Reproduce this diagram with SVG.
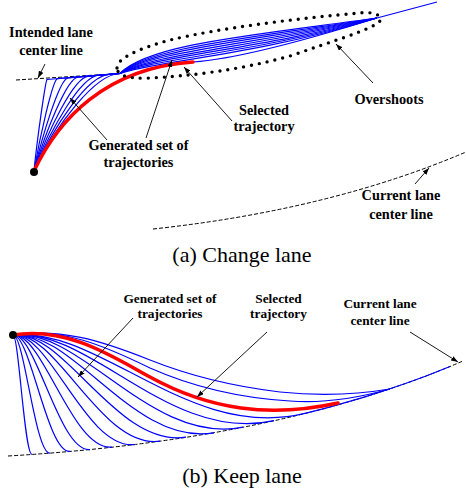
<svg xmlns="http://www.w3.org/2000/svg" width="466" height="495" viewBox="0 0 466 495">
<defs>
<marker id="ah" viewBox="0 0 7 5" refX="7" refY="2.5" markerWidth="7" markerHeight="5" markerUnits="userSpaceOnUse" orient="auto"><path d="M0,0 L7,2.5 L0,5 z" fill="#000"/></marker>
</defs>
<style>
.traj{fill:none;stroke:#0000ff;stroke-width:1.2;stroke-linejoin:round}
.sel{fill:none;stroke:#ff0000;stroke-width:3.5;stroke-linecap:round}
.lane{fill:none;stroke:#000;stroke-width:1;stroke-dasharray:4 2}
.oval{fill:none;stroke:#000;stroke-width:3.4;stroke-dasharray:0 8;stroke-linecap:round}
.arr{fill:none;stroke:#000;stroke-width:0.9;marker-end:url(#ah)}
.lbl{font-family:"Liberation Serif","Times New Roman",serif;font-weight:bold;text-anchor:middle;fill:#000}
.la{font-size:14.3px}
.lb{font-size:13.3px}
.cap{font-family:"Liberation Serif","Times New Roman",serif;font-size:22px;text-anchor:middle;fill:#000}
</style>
<rect width="466" height="495" fill="#fff"/>

<!-- Panel (a) Change lane -->
<g id="panel-a">
  <g id="intended-lane-line"><path class="lane" d="M16,80 L120,73.5"/></g>
  <g id="current-lane-line-a"><path class="lane" d="M153,229 Q330,210 466,152"/></g>
  <g id="trajectories-a">
    <path class="traj" d="M34,171 C37,140 45.5,81 47,79.5 L120,73.5 C148,44 255,35 377,18"/>
    <path class="traj" d="M34,171 C39.7,137.9 52.6,80 57.4,78.6 L120,73.5 C148,46.6 255,38 377,18"/>
    <path class="traj" d="M34,171 C42.4,135.7 59.6,79 67.9,77.8 L120,73.5 C148,49.1 255,41 377,18"/>
    <path class="traj" d="M34,171 C45.1,133.6 66.7,78 78.3,76.9 L120,73.5 C148,51.7 255,44 377,18"/>
    <path class="traj" d="M34,171 C47.8,131.4 73.8,77 88.7,76.1 L120,73.5 C148,54.3 255,47 377,18"/>
    <path class="traj" d="M34,171 C50.6,129.3 80.9,76 99.1,75.2 L120,73.5 C148,56.9 255,50 377,18"/>
    <path class="traj" d="M34,171 C53.3,127.1 87.9,75 109.6,74.4 L120,73.5 C148,59.4 255,53 377,18"/>
    <path class="traj" d="M34,171 C56,125 95,74 120,73.5 C148,62 255,56 377,18"/>
    <path class="traj" d="M193,62 C230,59.5 300,42 377,18 L437,2"/>
  </g>
  <g id="selected-trajectory-a"><path class="sel" d="M34,171 C58,120 105,68 193,62"/></g>
  <g id="overshoots-ellipse"><path class="oval" d="M117,68 C117,58 140,48 170,40 C220,28 300,18 360,13 C378,11 384,18 379,22 C370,30 330,42 290,56 C240,70 190,76 150,78 C130,79 117,76 117,68 Z"/></g>
  <g id="start-a"><circle cx="34" cy="172" r="4" fill="#000"/></g>
  <g id="label-intended"><text class="lbl la" x="51" y="36.5">Intended lane</text><text class="lbl la" x="51" y="55">center line</text></g>
  <g id="label-generated-a"><text class="lbl la" x="138.5" y="149.5">Generated set of</text><text class="lbl la" x="138.5" y="167">trajectories</text></g>
  <g id="label-selected-a"><text class="lbl la" x="264" y="114.5">Selected</text><text class="lbl la" x="264" y="131">trajectory</text></g>
  <g id="label-overshoots"><text class="lbl la" x="389" y="104">Overshoots</text></g>
  <g id="label-current-a"><text class="lbl la" x="401" y="200">Current lane</text><text class="lbl la" x="401" y="219">center line</text></g>
  <g id="caption-a"><text class="cap" x="242" y="261.5">(a) Change lane</text></g>
</g>

<!-- Panel (b) Keep lane -->
<g id="panel-b">
  <g id="current-lane-line-b"><path class="lane" d="M8,456 Q280,440 463,361"/></g>
  <g id="trajectories-b">
    <path class="traj" d="M13,335 C18.7,334.4 24.4,455 32,454.4"/>
    <path class="traj" d="M13,335 C24.1,333.9 35.2,454.4 50,453.2"/>
    <path class="traj" d="M13,335 C30.1,333.3 47.2,453.4 70,451.4"/>
    <path class="traj" d="M13,335 C36.1,332.7 59.2,452.6 90,449.6"/>
    <path class="traj" d="M13,335 C42.7,332 72.4,451.5 112,447.1"/>
    <path class="traj" d="M13,335 C49.6,331.3 86.2,450.6 135,444.5"/>
    <path class="traj" d="M13,335 C57.1,330.6 101.2,449.3 160,441.1"/>
    <path class="traj" d="M13,335 C64.9,329.8 116.8,448.1 186,437.2"/>
    <path class="traj" d="M13,335 C73.3,329 133.6,446.9 214,432.8"/>
    <path class="traj" d="M13,335 C82,328.1 151,445.3 243,427.2"/>
    <path class="traj" d="M13,335 C91.3,327.2 169.6,443.9 274,420.7"/>
    <path class="traj" d="M13,335 C100.9,326.2 188.8,442.4 306,413.2 L324,408.6 L345.2,402.7 L365.9,396.6 L386.2,390 L406.1,383.3 L425.5,376.2 L450,366.5"/>
    <path class="traj" d="M13,335 C62,327 105,346 150,368 C195,388 240,398 290,401 C330,404 365,396 390,389"/>
    <path class="traj" d="M13,335 C60,328 100,340 150,360 C190,376 230,386 280,392 C320,396 360,394 390,389"/>
  </g>
  <g id="selected-trajectory-b"><path class="sel" d="M13,335 C68,326 115,358 150,377 C210,410 270,418 338,403"/></g>
  <g id="start-b"><circle cx="13" cy="335" r="4" fill="#000"/></g>
  <g id="label-generated-b"><text class="lbl lb" x="170" y="302.5">Generated set of</text><text class="lbl lb" x="170" y="318">trajectories</text></g>
  <g id="label-selected-b"><text class="lbl lb" x="278.5" y="302.5">Selected</text><text class="lbl lb" x="278.5" y="318">trajectory</text></g>
  <g id="label-current-b"><text class="lbl lb" x="380" y="308">Current lane</text><text class="lbl lb" x="380" y="325">center line</text></g>
  <g id="caption-b"><text class="cap" x="242" y="483">(b) Keep lane</text></g>
</g>

<g id="connectors">
  <line class="arr" x1="45" y1="64" x2="38" y2="78"/>
  <line class="arr" x1="107" y1="140" x2="70" y2="98"/>
  <line class="arr" x1="146" y1="138" x2="172" y2="60"/>
  <line class="arr" x1="232" y1="121" x2="184" y2="67"/>
  <line class="arr" x1="373" y1="83" x2="336" y2="44"/>
  <line class="arr" x1="415" y1="184" x2="429" y2="168"/>
  <line class="arr" x1="133" y1="318" x2="78" y2="377"/>
  <line class="arr" x1="267" y1="332" x2="197" y2="397"/>
  <line class="arr" x1="410" y1="332" x2="458" y2="362"/>
</g>
</svg>
